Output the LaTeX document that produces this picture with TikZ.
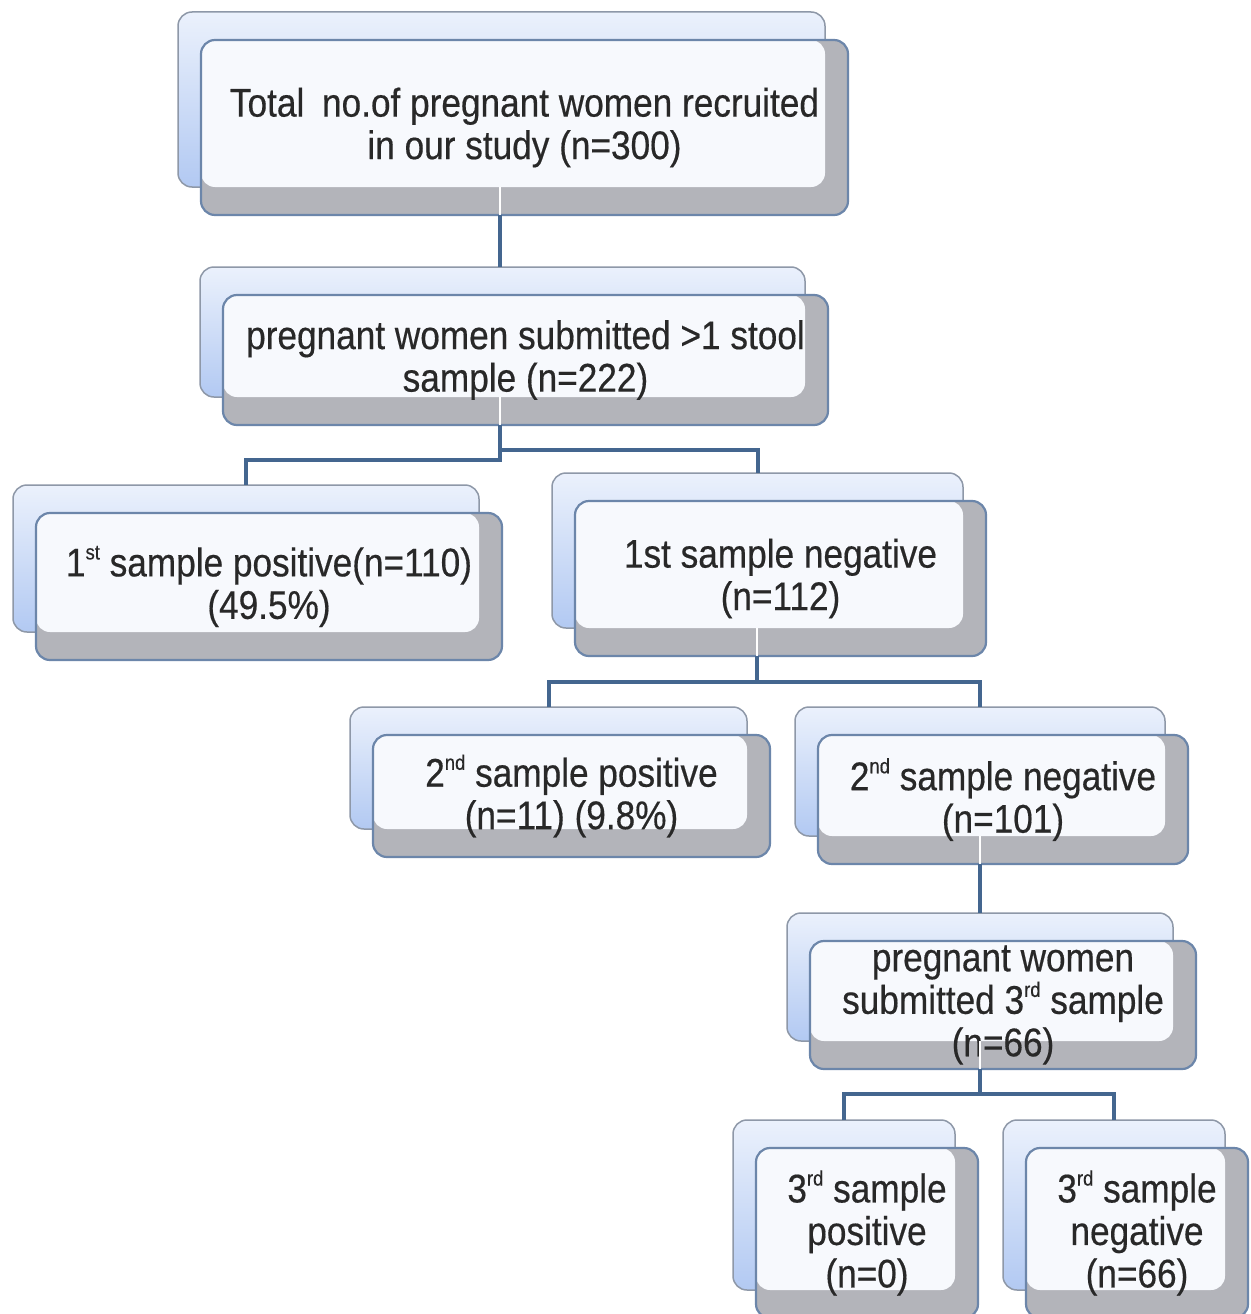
\documentclass[tikz,border=0pt]{standalone}
\usepackage{fontspec}
\setmainfont{Liberation Sans}[FakeStretch=0.88,FakeBold=0.4]
\definecolor{connc}{HTML}{44668F}
\definecolor{backtop}{HTML}{EBF1FC}
\definecolor{backbot}{HTML}{B2C9F2}
\definecolor{backline}{HTML}{8E98A8}
\definecolor{frontgray}{HTML}{B3B4BA}
\definecolor{frontline}{HTML}{6C86AA}
\definecolor{overlapc}{HTML}{F7F9FD}
\definecolor{txtc}{HTML}{282828}
\newcommand\sups[1]{\raisebox{0.8ex}{\fontsize{21}{21}\selectfont #1}}
\tikzset{
  backbox/.style={draw=backline, line width=1.5pt, rounded corners=14pt, top color=backtop, bottom color=backbot, inner sep=0pt, outer sep=0pt},
  frontbox/.style={fill=frontgray, rounded corners=14pt, inner sep=0pt, outer sep=0pt},
  overlapfill/.style={fill=overlapc, rounded corners=14pt},
  frontborder/.style={draw=frontline, line width=2.2pt, rounded corners=14pt},
  txt/.style={align=center, text=txtc, font=\fontsize{40}{42.5}\selectfont, inner sep=0pt},
  conn/.style={draw=connc, line width=4pt},
  lightline/.style={draw=white, line width=2pt},
}
\newcommand\boxpair[6]{%
  \node[backbox, minimum width={#4-#2}, minimum height={#5-#3}] (#1b) at ({(#2+#4)/2},{(#3+#5)/2}) {};
  \node[frontbox, minimum width={#4-#2}, minimum height={#5-#3}] (#1f) at ({(#2+#4)/2+23},{(#3+#5)/2+28}) {};
  \fill[overlapfill] (#1f.north west) rectangle (#1b.south east);
  \draw[frontborder] (#1f.north west) rectangle (#1f.south east);
  \node[txt] (#1) at (#1f.center) {#6};
}
\begin{document}
\begin{tikzpicture}[x=1pt,y=-1pt]
\useasboundingbox[fill=white] (0,0) rectangle (1250,1314);

\boxpair{A}{178}{12}{825}{187}{Total\hspace{0.2em} no.of pregnant women recruited\\in our study (n=300)}
\boxpair{B}{200}{267}{805}{397}{pregnant women submitted >1 stool\\sample (n=222)}
\boxpair{C}{13}{485}{479}{632}{1\sups{st} sample positive(n=110)\\(49.5\%)}
\boxpair{D}{552}{473}{963}{628}{1st sample negative\\(n=112)}
\boxpair{E}{350}{707}{747}{829}{2\sups{nd} sample positive\\(n=11) (9.8\%)}
\boxpair{F}{795}{707}{1165}{836}{2\sups{nd} sample negative\\(n=101)}
\boxpair{G}{787}{913}{1173}{1041}{pregnant women\\submitted 3\sups{rd} sample\\(n=66)}
\boxpair{H}{733}{1120}{955}{1290}{3\sups{rd} sample\\positive\\(n=0)}
\boxpair{I}{1003}{1120}{1225}{1290}{3\sups{rd} sample\\negative\\(n=66)}

% junctions
\coordinate (jA) at (500,240);
\coordinate (jB) at (500,460);
\coordinate (jB2) at (500,450);
\coordinate (jD) at (757,682);
\coordinate (jF) at (980,890);
\coordinate (jG) at (980,1094);

% connectors
\draw[conn] (Af.south -| jA) -- (Bb.north -| jA);
\draw[conn] (Bf.south -| jB) -- (jB) -| (Cb.north);
\draw[conn] (jB2) -| (Db.north);
\draw[conn] (Df.south -| jD) -- (jD);
\draw[conn] (Eb.north) |- (jD) -| (Fb.north);
\draw[conn] (Ff.south -| jF) -- (Gb.north -| jF);
\draw[conn] (Gf.south -| jG) -- (jG);
\draw[conn] (Hb.north) |- (jG) -| (Ib.north);

% light traces of connectors inside the front boxes
\draw[lightline] (Ab.south -| jA) -- (Af.south -| jA);
\draw[lightline] (Bb.south -| jB) -- (Bf.south -| jB);
\draw[lightline] (Db.south -| jD) -- (Df.south -| jD);
\draw[lightline] (Fb.south -| jF) -- (Ff.south -| jF);
\draw[lightline] (Gb.south -| jG) -- (Gf.south -| jG);
\end{tikzpicture}
\end{document}
